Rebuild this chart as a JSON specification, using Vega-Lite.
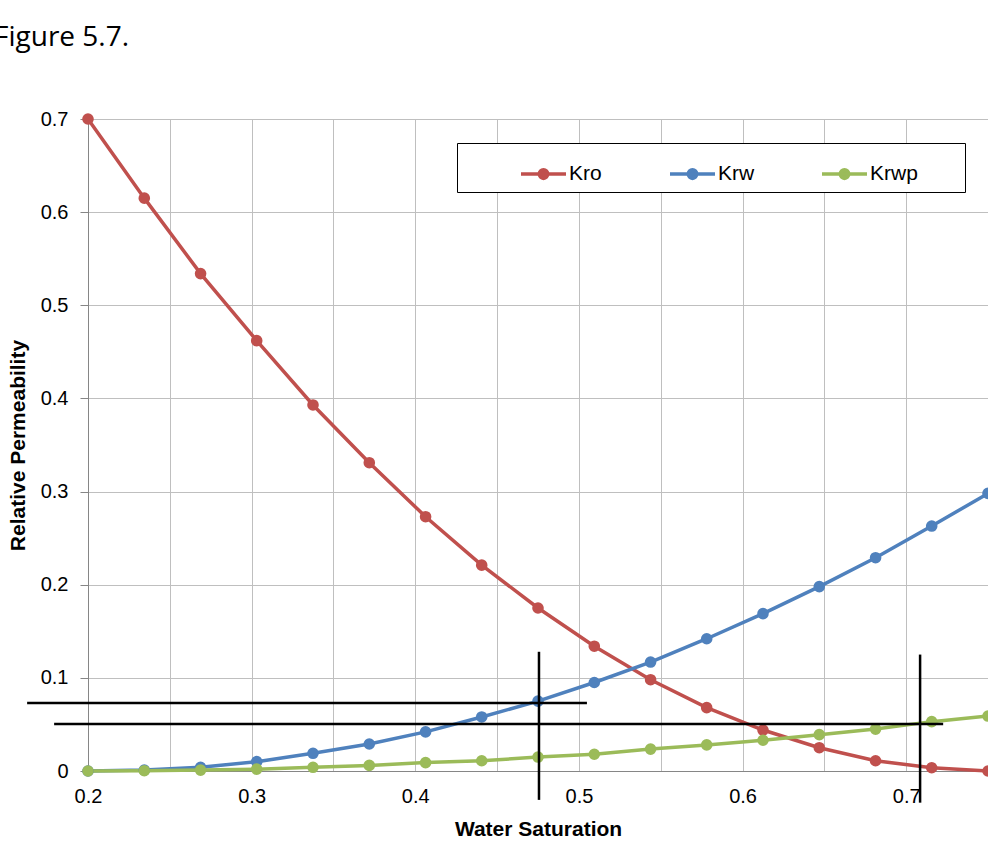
{
  "$schema": "https://vega.github.io/schema/vega-lite/v6.json",
  "width": 900,
  "height": 652,
  "autosize": {"type": "none"},
  "padding": {"left": 88, "top": 119, "right": 0, "bottom": 70},
  "background": "white",
  "title": {
    "text": "Figure 5.7.",
    "anchor": "start",
    "frame": "group",
    "dx": -94,
    "offset": 35,
    "baseline": "alphabetic",
    "font": "Open Sans",
    "fontSize": 28,
    "fontWeight": "normal",
    "color": "#000000"
  },
  "config": {
    "view": {"stroke": null},
    "axis": {
      "labelFont": "Liberation Sans",
      "labelFontSize": 20,
      "labelColor": "#000000",
      "titleFont": "Liberation Sans",
      "titleFontSize": 21,
      "titleFontWeight": "bold",
      "titleColor": "#000000",
      "gridColor": "#bfbfbf",
      "gridWidth": 1,
      "domainColor": "#868686",
      "domainWidth": 1,
      "tickColor": "#868686"
    }
  },
  "layer": [
    {
      "data": {
        "values": [
          {"Sw": 0.2, "series": "Kro", "kr": 0.7},
          {"Sw": 0.2344, "series": "Kro", "kr": 0.615},
          {"Sw": 0.2688, "series": "Kro", "kr": 0.534},
          {"Sw": 0.3031, "series": "Kro", "kr": 0.462},
          {"Sw": 0.3375, "series": "Kro", "kr": 0.393},
          {"Sw": 0.3719, "series": "Kro", "kr": 0.331},
          {"Sw": 0.4063, "series": "Kro", "kr": 0.273},
          {"Sw": 0.4406, "series": "Kro", "kr": 0.221},
          {"Sw": 0.475, "series": "Kro", "kr": 0.175},
          {"Sw": 0.5094, "series": "Kro", "kr": 0.134},
          {"Sw": 0.5438, "series": "Kro", "kr": 0.098},
          {"Sw": 0.5781, "series": "Kro", "kr": 0.068},
          {"Sw": 0.6125, "series": "Kro", "kr": 0.044},
          {"Sw": 0.6469, "series": "Kro", "kr": 0.025},
          {"Sw": 0.6813, "series": "Kro", "kr": 0.011},
          {"Sw": 0.7156, "series": "Kro", "kr": 0.0035},
          {"Sw": 0.75, "series": "Kro", "kr": 0.0},
          {"Sw": 0.2, "series": "Krw", "kr": 0.0},
          {"Sw": 0.2344, "series": "Krw", "kr": 0.001},
          {"Sw": 0.2688, "series": "Krw", "kr": 0.004},
          {"Sw": 0.3031, "series": "Krw", "kr": 0.01},
          {"Sw": 0.3375, "series": "Krw", "kr": 0.019},
          {"Sw": 0.3719, "series": "Krw", "kr": 0.029},
          {"Sw": 0.4063, "series": "Krw", "kr": 0.042},
          {"Sw": 0.4406, "series": "Krw", "kr": 0.058},
          {"Sw": 0.475, "series": "Krw", "kr": 0.075},
          {"Sw": 0.5094, "series": "Krw", "kr": 0.095},
          {"Sw": 0.5438, "series": "Krw", "kr": 0.117},
          {"Sw": 0.5781, "series": "Krw", "kr": 0.142},
          {"Sw": 0.6125, "series": "Krw", "kr": 0.169},
          {"Sw": 0.6469, "series": "Krw", "kr": 0.198},
          {"Sw": 0.6813, "series": "Krw", "kr": 0.229},
          {"Sw": 0.7156, "series": "Krw", "kr": 0.263},
          {"Sw": 0.75, "series": "Krw", "kr": 0.298},
          {"Sw": 0.2, "series": "Krwp", "kr": 0.0},
          {"Sw": 0.2344, "series": "Krwp", "kr": 0.0003},
          {"Sw": 0.2688, "series": "Krwp", "kr": 0.001},
          {"Sw": 0.3031, "series": "Krwp", "kr": 0.002},
          {"Sw": 0.3375, "series": "Krwp", "kr": 0.004},
          {"Sw": 0.3719, "series": "Krwp", "kr": 0.006},
          {"Sw": 0.4063, "series": "Krwp", "kr": 0.009},
          {"Sw": 0.4406, "series": "Krwp", "kr": 0.011},
          {"Sw": 0.475, "series": "Krwp", "kr": 0.015},
          {"Sw": 0.5094, "series": "Krwp", "kr": 0.018},
          {"Sw": 0.5438, "series": "Krwp", "kr": 0.0235},
          {"Sw": 0.5781, "series": "Krwp", "kr": 0.028},
          {"Sw": 0.6125, "series": "Krwp", "kr": 0.033},
          {"Sw": 0.6469, "series": "Krwp", "kr": 0.039},
          {"Sw": 0.6813, "series": "Krwp", "kr": 0.045},
          {"Sw": 0.7156, "series": "Krwp", "kr": 0.053},
          {"Sw": 0.75, "series": "Krwp", "kr": 0.059}
        ]
      },
      "mark": {
        "type": "line",
        "strokeWidth": 3.5,
        "clip": false,
        "point": {"filled": true, "size": 135, "opacity": 1}
      },
      "encoding": {
        "x": {
          "field": "Sw",
          "type": "quantitative",
          "scale": {"domain": [0.2, 0.75], "nice": false, "zero": false},
          "axis": {
            "title": "Water Saturation",
            "values": [0.2, 0.25, 0.3, 0.35, 0.4, 0.45, 0.5, 0.55, 0.6, 0.65, 0.7, 0.75],
            "labelExpr": "abs(datum.value * 10 - round(datum.value * 10)) < 0.001 ? format(datum.value, '.1f') : ''",
            "ticks": false,
            "tickSize": 0,
            "labelPadding": 15,
            "titlePadding": 12,
            "labelFlush": false,
            "labelOverlap": false
          }
        },
        "y": {
          "field": "kr",
          "type": "quantitative",
          "scale": {"domain": [0, 0.7], "nice": false},
          "axis": {
            "title": "Relative Permeability",
            "values": [0, 0.1, 0.2, 0.3, 0.4, 0.5, 0.6, 0.7],
            "labelExpr": "datum.value == 0 ? '0' : format(datum.value, '.1f')",
            "ticks": true,
            "tickSize": 8,
            "labelPadding": 12,
            "titlePadding": 12,
            "labelOverlap": false
          }
        },
        "color": {
          "field": "series",
          "type": "nominal",
          "scale": {"domain": ["Kro", "Krw", "Krwp"], "range": ["#C0504D", "#4F81BD", "#9BBB59"]},
          "legend": {
            "title": "\u00a0",
            "titleOrient": "right",
            "titlePadding": 41,
            "titleFontSize": 8,
            "orient": "none",
            "legendX": 369,
            "legendY": 24,
            "direction": "horizontal",
            "columns": 3,
            "padding": 6.5,
            "strokeColor": "#000000",
            "fillColor": "#ffffff",
            "symbolType": "M-1,0L1,0M-0.19,0A0.19,0.19,0,1,1,0.19,0A0.19,0.19,0,1,1,-0.19,0Z",
            "symbolSize": 2025,
            "symbolStrokeWidth": 3.5,
            "symbolOffset": 55.5,
            "labelOffset": 1,
            "columnPadding": 10,
            "labelFont": "Liberation Sans",
            "labelFontSize": 21,
            "labelColor": "#000000",
            "encode": {
              "symbols": {
                "update": {
                  "fill": {"scale": "color", "field": "value"},
                  "stroke": {"scale": "color", "field": "value"},
                  "opacity": {"value": 1}
                }
              }
            }
          }
        }
      }
    },
    {
      "data": {
        "values": [
          {"x": 0.1628, "x2": 0.5049, "y": 0.073, "y2": 0.073},
          {"x": 0.1793, "x2": 0.7226, "y": 0.0505, "y2": 0.0505},
          {"x": 0.4756, "x2": 0.4756, "y": 0.128, "y2": -0.031},
          {"x": 0.7085, "x2": 0.7085, "y": 0.125, "y2": -0.034}
        ]
      },
      "mark": {"type": "rule", "color": "#000000", "strokeWidth": 2.5, "clip": false},
      "encoding": {
        "x": {"field": "x", "type": "quantitative"},
        "x2": {"field": "x2"},
        "y": {"field": "y", "type": "quantitative"},
        "y2": {"field": "y2"}
      }
    }
  ]
}
